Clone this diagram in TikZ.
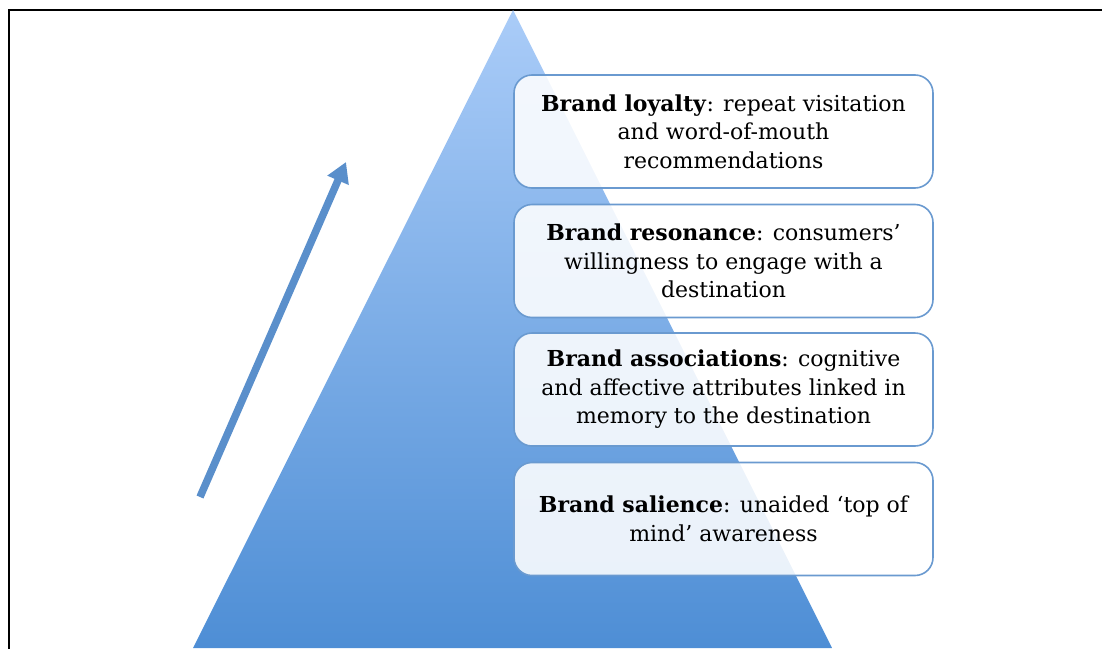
\documentclass[tikz,border=0pt]{standalone}
\usepackage{fontspec}
\setmainfont{DejaVu Serif}
\usetikzlibrary{shadows,arrows.meta}
\definecolor{tritop}{HTML}{AACCF8}
\definecolor{tribot}{HTML}{4E8ED5}
\definecolor{boxline}{HTML}{6A9AD0}
\definecolor{arrowcol}{HTML}{5A8FCB}
\tikzset{
  levelbox/.style={draw=boxline, line width=1.6pt, rounded corners=18pt, fill=white, fill opacity=0.88, text opacity=1,
    minimum width=419pt, minimum height=113pt, align=center, inner sep=0pt,
    font=\fontsize{22}{28.5}\selectfont},
  frameline/.style={draw=black, line width=1.8pt},
}
\begin{document}
\begin{tikzpicture}[x=1pt,y=-1pt]
\useasboundingbox (0,0) rectangle (1102,648);
\draw[frameline] (9,660) -- (9,10) -- (1110,10);
% pyramid
\shade[top color=tritop, bottom color=tribot] (513,10) -- (832,648) -- (193,648) -- cycle;
% arrow
\coordinate (as) at (200,497);
\coordinate (ae) at (346,162);
\draw[arrowcol, line width=7.5pt, -{Triangle[length=20pt,width=22pt]}] (as) -- (ae);
% boxes
\node[levelbox] (b1) at (723.5,131.5) {\textbf{Brand loyalty}: repeat visitation\\and word-of-mouth\\recommendations};
\node[levelbox] (b2) at (723.5,261) {\textbf{Brand resonance}: consumers’\\willingness to engage with a\\destination};
\node[levelbox] (b3) at (723.5,389.5) {\textbf{Brand associations}: cognitive\\and affective attributes linked in\\memory to the destination};
\node[levelbox] (b4) at (723.5,519) {\textbf{Brand salience}: unaided ‘top of\\mind’ awareness};
\end{tikzpicture}
\end{document}
